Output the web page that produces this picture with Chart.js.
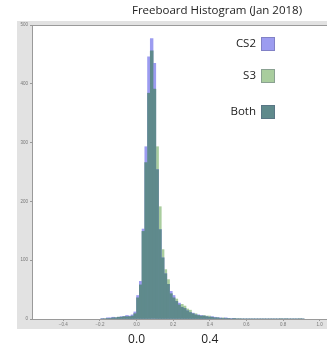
<!DOCTYPE html>
<html>
<head>
<meta charset="utf-8">
<script src="https://cdn.jsdelivr.net/npm/chart.js@4"></script>
<style>
html, body { margin: 0; padding: 0; background: #fff; overflow: hidden; }
#wrap { width: 327px; height: 345px; }
</style>
</head>
<body>
<div id="wrap"><canvas id="histChart"></canvas></div>
<script>
const titleText = 'Freeboard Histogram (Jan 2018)';
const seriesLabels = ['CS2', 'S3', 'Both'];
const seriesColors = ['#9c9cf0', '#a9cd9e', '#5f8a8c'];
const binStart = -0.195;
const binWidth = 0.015;
// counts per bin, bin k covers binStart + k*binWidth
const cs2Counts = [1, 0, 2, 2, 3, 2, 3, 4, 4, 6, 5, 7, 12, 40, 64, 153, 293, 446, 477, 435,
    254, 152, 104, 77, 59, 47, 40, 30, 27, 20, 18, 14, 11, 10, 7, 7, 6, 5, 4, 3,
    4, 3, 2, 2, 1, 2, 1, 1, 1, 0, 0, 0, 0, 0, 0, 0, 0, 0, 0, 0,
    0, 0, 0, 0, 0, 0, 0, 0, 0, 0, 0, 0, 0, 0];
const s3Counts = [0, 1, 1, 1, 2, 2, 3, 3, 4, 4, 4, 5, 9, 36, 58, 149, 266, 384, 456, 391,
    293, 191, 118, 84, 67, 43, 36, 34, 24, 25, 22, 17, 15, 9, 9, 6, 5, 6, 5, 5,
    3, 2, 2, 1, 2, 1, 1, 0, 1, 1, 1, 0, 0, 0, 0, 0, 0, 0, 0, 0,
    0, 0, 0, 0, 0, 1, 0, 1, 0, 0, 0, 0, 1, 0];
const xTickValues = [-0.4, -0.2, 0.0, 0.2, 0.4, 0.6, 0.8, 1.0];
const yTickValues = [0, 100, 200, 300, 400, 500];
const bigTickValues = [0.0, 0.4];

const bins = cs2Counts.map((_, i) => +(binStart + (i + 0.5) * binWidth).toFixed(4));
const bothCounts = cs2Counts.map((v, i) => Math.min(v, s3Counts[i]));
const toPoints = arr => arr.map((v, i) => ({ x: bins[i], y: v }));

const fmt = v => v.toFixed(1).replace('-', '\u2212');

const decorPlugin = {
    id: 'decor',
    beforeDraw(chart) {
        const { ctx, chartArea: a } = chart;
        ctx.save();
        ctx.fillStyle = '#e2e2e2';
        ctx.fillRect(17, 21, 310, 308);
        ctx.fillStyle = '#ffffff';
        ctx.fillRect(a.left, a.top, a.right - a.left, a.bottom - a.top);
        ctx.restore();
    },
    afterDraw(chart) {
        const { ctx, chartArea: a } = chart;
        ctx.save();
        ctx.strokeStyle = '#9a9a9a';
        ctx.lineWidth = 1;
        ctx.beginPath();
        ctx.moveTo(a.left, a.top + 0.5);
        ctx.lineTo(a.right, a.top + 0.5);
        ctx.stroke();

        // title
        ctx.fillStyle = '#222';
        ctx.font = '11.5px "Open Sans"';
        ctx.textAlign = 'center';
        ctx.textBaseline = 'alphabetic';
        ctx.fillText(titleText, 217, 14);

        // legend
        ctx.font = '11.5px "Open Sans"';
        ctx.textAlign = 'right';
        ctx.textBaseline = 'middle';
        const ys = [44, 76, 112];
        seriesLabels.forEach((lab, i) => {
            ctx.fillStyle = '#222';
            ctx.fillText(lab, 256, ys[i]);
            ctx.fillStyle = seriesColors[i];
            ctx.fillRect(261, ys[i] - 7, 14, 14);
            ctx.strokeStyle = 'rgba(80,80,120,0.35)';
            ctx.strokeRect(261.5, ys[i] - 6.5, 13, 13);
        });

        // large tick labels under the axis
        const xs = chart.scales.x;
        ctx.font = '12px "Open Sans"';
        ctx.textAlign = 'center';
        ctx.textBaseline = 'alphabetic';
        ctx.fillStyle = '#222';
        bigTickValues.forEach(v => ctx.fillText(v.toFixed(1), xs.getPixelForValue(v), 343));
        ctx.restore();
    }
};

const ctx = document.getElementById('histChart').getContext('2d');
window.histChartInstance = new Chart(ctx, {
    type: 'bar',
    data: {
        datasets: [
            { label: seriesLabels[0], data: toPoints(cs2Counts), backgroundColor: seriesColors[0], order: 1 },
            { label: seriesLabels[1], data: toPoints(s3Counts), backgroundColor: seriesColors[1], order: 2 },
            { label: seriesLabels[2], data: toPoints(bothCounts), backgroundColor: seriesColors[2], order: 0 }
        ]
    },
    options: {
        responsive: true,
        maintainAspectRatio: false,
        animation: false,
        layout: { padding: { left: 17, top: 25, right: 0, bottom: 16 } },
        datasets: {
            bar: { barPercentage: 1, categoryPercentage: 1, grouped: false, borderWidth: 0 }
        },
        plugins: {
            legend: { display: false },
            title: { display: false },
            tooltip: { enabled: false }
        },
        scales: {
            x: {
                type: 'linear',
                min: -0.571,
                max: 1.04,
                offset: false,
                afterBuildTicks: s => { s.ticks = xTickValues.map(v => ({ value: v })); },
                afterFit: s => { s.height = 10; },
                grid: { drawOnChartArea: false, offset: false, tickLength: 2, color: '#999' },
                border: { color: '#9a9a9a' },
                ticks: {
                    color: '#777',
                    font: { size: 4.5 },
                    padding: 1,
                    maxRotation: 0,
                    autoSkip: false,
                    callback: v => fmt(v)
                }
            },
            y: {
                min: 0,
                max: 500,
                afterBuildTicks: s => { s.ticks = yTickValues.map(v => ({ value: v })); },
                afterFit: s => { s.width = 15; },
                grid: { drawOnChartArea: false, tickLength: 2, color: '#999' },
                border: { color: '#9a9a9a' },
                ticks: { color: '#777', font: { size: 4.5 }, padding: 2 }
            }
        }
    },
    plugins: [decorPlugin]
});
</script>
</body>
</html>
